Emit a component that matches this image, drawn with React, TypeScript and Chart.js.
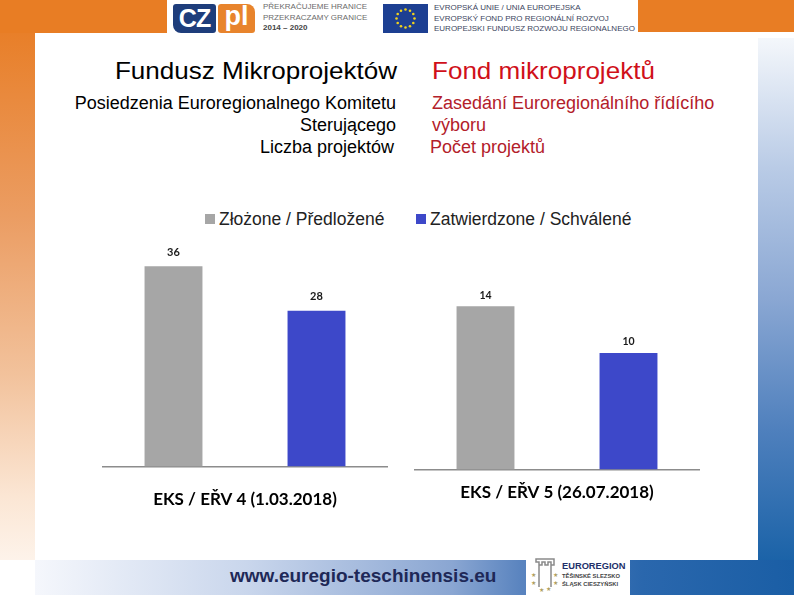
import React, { useEffect, useRef } from "react";
import { Chart, registerables } from "chart.js";

Chart.register(...registerables);

// ---- data ----
const seriesLabels = ["Złożone / Předložené", "Zatwierdzone / Schválené"];
const seriesColors = ["#a6a6a6", "#3d48c9"];
const meeting1Category = ["EKS / EŘV 4 (1.03.2018)"];
const meeting1Values = [36, 28];
const meeting2Category = ["EKS / EŘV 5 (26.07.2018)"];
const meeting2Values = [14, 10];

const valueLabels = {
  id: "valueLabels",
  afterDatasetsDraw(chart: any, _args: any, opts: any) {
    const ctx = chart.ctx;
    ctx.save();
    ctx.font = `700 ${opts.size}px Lato, "DejaVu Sans", sans-serif`;
    ctx.fillStyle = "#1a1a1a";
    ctx.textAlign = "center";
    ctx.textBaseline = "middle";
    chart.data.datasets.forEach((ds: any, i: number) => {
      const meta = chart.getDatasetMeta(i);
      meta.data.forEach((el: any, j: number) => {
        ctx.fillText(String(ds.data[j]), el.x, el.y - opts.offset);
      });
    });
    ctx.restore();
  },
};

type BarProps = {
  category: string[];
  values: number[];
  yMax: number;
  left: number;
  top: number;
  width: number;
  height: number;
  tickSize: number;
  tickPadding: number;
  labelSize: number;
  labelOffset: number;
};

function BarPanel(p: BarProps) {
  const ref = useRef<HTMLCanvasElement | null>(null);
  useEffect(() => {
    if (!ref.current) return;
    const chart = new Chart(ref.current, {
      type: "bar",
      data: {
        labels: p.category,
        datasets: p.values.map((v, i) => ({
          label: seriesLabels[i],
          data: [v],
          backgroundColor: seriesColors[i],
          borderWidth: 0,
          categoryPercentage: 1,
          barPercentage: 0.405,
        })),
      },
      options: {
        animation: false,
        responsive: false,
        maintainAspectRatio: false,
        devicePixelRatio: 1,
        layout: { padding: { top: 10, left: 0, right: 0, bottom: 0 } },
        plugins: {
          legend: { display: false },
          tooltip: { enabled: false },
          // @ts-ignore
          valueLabels: { size: p.labelSize, offset: p.labelOffset },
        },
        scales: {
          x: {
            grid: { display: false, drawTicks: false },
            border: { display: true, color: "#8c8c8c", width: 1.5 },
            ticks: {
              color: "#000",
              padding: p.tickPadding,
              font: { family: "Lato", weight: "bold", size: p.tickSize },
            },
          },
          y: { display: false, min: 0, max: p.yMax },
        },
      } as any,
      plugins: [valueLabels],
    });
    return () => chart.destroy();
  }, []);
  return (
    <canvas
      ref={ref}
      width={p.width}
      height={p.height}
      style={{ position: "absolute", left: p.left, top: p.top, width: p.width, height: p.height }}
    />
  );
}

function EuFlag() {
  const stars = [];
  for (let i = 0; i < 12; i++) {
    const a = (i / 12) * Math.PI * 2;
    stars.push(
      <circle key={i} cx={22.5 + 9 * Math.cos(a)} cy={14.5 + 9 * Math.sin(a)} r={1.3} fill="#f2d31b" />
    );
  }
  return (
    <svg width={45} height={29} style={{ position: "absolute", left: 383, top: 4 }}>
      <rect x={0} y={0} width={45} height={29} fill="#1d3f92" />
      {stars}
    </svg>
  );
}

const abs = (o: React.CSSProperties): React.CSSProperties => ({ position: "absolute", ...o });

export default function App() {
  return (
    <div
      style={{
        position: "fixed",
        left: 0,
        top: 0,
        width: 794,
        height: 595,
        overflow: "hidden",
        background: "#fff",
        fontFamily: '"Liberation Sans", Arial, sans-serif',
      }}
    >
      {/* frame decorations */}
      <div style={abs({ left: 0, top: 0, width: 167, height: 33, background: "#e87d24" })} />
      <div
        style={abs({
          left: 0,
          top: 33,
          width: 35,
          height: 527,
          background: "linear-gradient(to bottom, #e87f29 0%, #eb9d63 35%, #f2c29c 65%, #fbe6d4 88%, #fdf3ea 100%)",
        })}
      />
      <div style={abs({ left: 638, top: 0, width: 156, height: 32, background: "#e87d24" })} />
      <div
        style={abs({
          left: 758,
          top: 38,
          width: 36,
          height: 522,
          background: "linear-gradient(to bottom, #f4f7fb 0%, #b9cbe6 25%, #8aa7d3 50%, #4f80bd 75%, #1b63a8 100%)",
        })}
      />
      <div
        style={abs({
          left: 35,
          top: 560,
          width: 759,
          height: 35,
          background:
            "linear-gradient(to right, #f5f7fc 0%, #c9d6ec 28%, #8aa6d2 55%, #5a84bf 64%, #2a67ad 80%, #1a5ea5 100%)",
        })}
      />
      <div style={abs({ left: 526, top: 556, width: 104, height: 39, background: "#fff" })} />

      {/* header logos */}
      <div
        style={abs({
          left: 173,
          top: 4,
          width: 43,
          height: 29,
          background: "#1e3d7b",
          borderRadius: "3px 3px 3px 8px",
          color: "#fff",
          fontWeight: 700,
          fontSize: 25,
          lineHeight: "29px",
          textAlign: "center",
          letterSpacing: -1,
        })}
      >
        CZ
      </div>
      <div
        style={abs({
          left: 218,
          top: 4,
          width: 37,
          height: 29,
          background: "#e8842c",
          borderRadius: "3px 8px 3px 3px",
          color: "#fff",
          fontWeight: 700,
          fontSize: 27,
          lineHeight: "25px",
          textAlign: "center",
        })}
      >
        pl
      </div>
      <div
        style={abs({
          left: 263,
          top: 2,
          fontSize: 8,
          lineHeight: "10.5px",
          color: "#6b6b6b",
          whiteSpace: "nowrap",
        })}
      >
        PŘEKRAČUJEME HRANICE
        <br />
        PRZEKRACZAMY GRANICE
        <br />
        <span style={{ color: "#444", fontWeight: 700 }}>2014 – 2020</span>
      </div>
      <EuFlag />
      <div style={abs({ left: 434, top: 3, fontSize: 8, lineHeight: "10.5px", color: "#3d4660", whiteSpace: "nowrap" })}>
        EVROPSKÁ UNIE / UNIA EUROPEJSKA
        <br />
        EVROPSKÝ FOND PRO REGIONÁLNÍ ROZVOJ
        <br />
        EUROPEJSKI FUNDUSZ ROZWOJU REGIONALNEGO
      </div>

      {/* headings */}
      <div
        style={abs({
          right: 397,
          top: 57,
          fontSize: 24,
          lineHeight: "28px",
          color: "#000",
          whiteSpace: "nowrap",
          transform: "scaleX(1.085)",
          transformOrigin: "right center",
        })}
      >
        Fundusz Mikroprojektów
      </div>
      <div
        style={abs({
          right: 398,
          top: 92,
          fontSize: 18,
          lineHeight: "22px",
          color: "#000",
          textAlign: "right",
          whiteSpace: "nowrap",
        })}
      >
        Posiedzenia Euroregionalnego Komitetu
        <br />
        Sterującego
        <br />
        <span style={{ marginRight: 2 }}>Liczba projektów</span>
      </div>
      <div
        style={abs({
          left: 432,
          top: 57,
          fontSize: 24,
          lineHeight: "28px",
          color: "#d0101a",
          whiteSpace: "nowrap",
          transform: "scaleX(1.085)",
          transformOrigin: "left center",
        })}
      >
        Fond mikroprojektů
      </div>
      <div style={abs({ left: 432, top: 92, fontSize: 18, lineHeight: "22px", color: "#b3202a", whiteSpace: "nowrap" })}>
        Zasedání Euroregionálního řídícího
        <br />
        výboru
        <br />
        <span style={{ marginLeft: -2 }}>Počet projektů</span>
      </div>

      {/* legend */}
      {seriesLabels.map((lab, i) => (
        <div
          key={lab}
          style={abs({ left: i === 0 ? 205 : 416, top: 209, height: 20, display: "flex", alignItems: "center", whiteSpace: "nowrap" })}
        >
          <span style={{ display: "inline-block", width: 10, height: 10, background: seriesColors[i], marginRight: 4 }} />
          <span style={{ fontSize: 17.5, color: "#222" }}>{lab}</span>
        </div>
      ))}

      <BarPanel
        category={meeting1Category}
        values={meeting1Values}
        yMax={40}
        left={102}
        top={234}
        width={286}
        height={299}
        tickSize={17}
        tickPadding={23}
        labelSize={11}
        labelOffset={14}
      />
      <BarPanel
        category={meeting2Category}
        values={meeting2Values}
        yMax={16}
        left={414}
        top={273}
        width={286}
        height={243}
        tickSize={17}
        tickPadding={13}
        labelSize={10.5}
        labelOffset={11}
      />

      {/* footer */}
      <div
        style={abs({
          left: 230,
          top: 565,
          fontSize: 19,
          lineHeight: "22px",
          fontWeight: 700,
          color: "#1e2857",
          whiteSpace: "nowrap",
        })}
      >
        www.euregio-teschinensis.eu
      </div>
      <svg width={30} height={36} style={{ position: "absolute", left: 530, top: 557 }}>
        <path d="M6 2 H24 V8 H21 V5 H18 V8 H15 V5 H12 V8 H9 V5 H6 Z M9 8 V30 M21 8 V30" stroke="#8a8a8a" strokeWidth={1.5} fill="none" />
        <text x={1} y={20} fontSize={6} fill="#b0a060">★</text>
        <text x={1} y={28} fontSize={6} fill="#b0a060">★</text>
        <text x={23} y={20} fontSize={6} fill="#b0a060">★</text>
        <text x={23} y={28} fontSize={6} fill="#b0a060">★</text>
        <text x={9} y={35} fontSize={6} fill="#b0a060">★</text>
        <text x={16} y={34} fontSize={6} fill="#b0a060">★</text>
      </svg>
      <div style={abs({ left: 562, top: 561, fontSize: 9.3, fontWeight: 700, color: "#23306a", lineHeight: "11px", whiteSpace: "nowrap" })}>
        EUROREGION
      </div>
      <div style={abs({ left: 562, top: 573, fontSize: 5.8, fontWeight: 700, color: "#444", lineHeight: "7.5px", whiteSpace: "nowrap" })}>
        TĚŠINSKÉ SLEZSKO
        <br />
        ŚLĄSK CIESZYŃSKI
      </div>
    </div>
  );
}
